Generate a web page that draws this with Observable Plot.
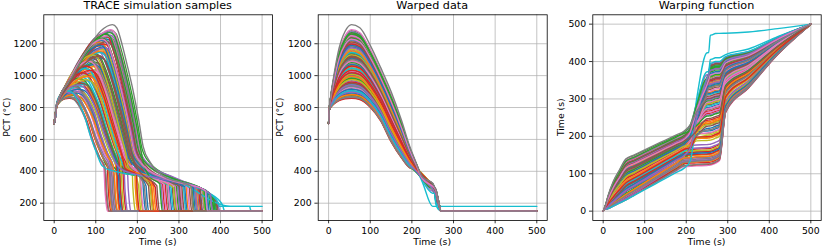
<!DOCTYPE html>
<html><head><meta charset="utf-8">
<script src="https://cdn.jsdelivr.net/npm/d3@7"></script>
<script src="https://cdn.jsdelivr.net/npm/@observablehq/plot@0.6"></script>
<style>
body{margin:0;background:#fff;}
#wrap{position:relative;width:822px;height:248px;overflow:hidden;background:#fff;}
#wrap svg{position:absolute;top:0;}
</style></head><body><div id="wrap"></div>
<script>
// ---- per-sample values ----
const peak = [
1012,1187,905,1240,968,1105,872,1150,1063,930,
1268,948,1122,884,1205,1036,1172,918,1088,990,
1230,862,1140,1002,1255,940,1075,1195,896,1050,
1110,978,1282,858,1160,1024,912,1218,1094,955,
1180,1042,876,1262,998,1128,925,1245,1068,1015,
890,1210,1082,960,1275,1135,1028,868,1165,944,
1225,1057,984,1198,900,1115,1250,935,1008,1145,
1070,880,1235,1018,1175,952,1288,1100,975,1045,
915,1155,1260,1033,896,1212,1090,864,1130,905,
1190,995,1270,1060,942,1120,1228,1320];
const peakTime = [
85,104,36,130,80,84,31,112,76,66,
122,70,108,35,106,100,110,55,78,66,
126,39,96,84,134,44,100,112,60,72,
112,56,138,36,100,90,40,126,84,69,
118,70,48,120,84,106,42,132,94,64,
53,110,100,54,134,94,96,30,116,71,
114,96,58,120,55,88,128,43,88,110,
96,45,116,68,122,66,136,84,78,74,
60,114,124,86,34,126,82,41,92,30,
110,82,134,76,56,108,116,140];
const descent = [
84,78,90,72,95,80,88,76,92,82,
74,86,79,93,77,89,81,85,96,83,
75,91,87,80,70,94,78,82,88,97,
79,92,73,86,84,77,98,76,90,81,
80,88,94,74,83,78,91,72,85,93,
89,77,82,96,71,86,79,92,75,84,
78,81,95,76,87,90,73,93,80,79,
83,97,76,88,74,85,70,91,82,86,
92,75,78,84,99,73,87,90,81,85,
77,85,74,89,93,80,76,74];
const quench = [
215,318,372,262,179,285,123,345,208,384,
300,160,332,131,356,235,305,145,198,362,
278,134,290,168,258,390,210,338,152,312,
222,152,378,126,298,326,142,272,190,366,
350,196,386,268,171,308,137,375,232,282,
146,342,295,154,393,228,322,127,358,160,
368,240,380,348,147,302,265,141,288,405,
315,147,360,160,340,388,275,218,164,470,
157,330,382,244,138,352,292,136,204,395,
335,236,255,200,376,248,364,330];
const hotFinish = [89];           // samples that end at 180 °C instead of 150 °C
// warped-time grid and the warped PCT of the lowest / highest sample on it
const warpGrid  = [0,2,5,12,25,40,55,75,100,125,150,175,195,210,225,250,254,258,264,270,280,295,350,420,500];
const lowShape  = [700,790,800,818,838,848,850,842,795,710,580,480,420,390,350,285,268,250,195];
const highShape = [700,800,870,990,1170,1280,1320,1300,1190,1050,900,720,555,455,405,325,305,285,215];
// common cooling envelope seen in the raw samples
const envTime = [0,122,303,351,375,391,407,420,500];
const envPCT  = [416,416,332,297,259,206,186,180,180];
const xTicks = [0,100,200,300,400,500];
const pctTicks = [200,400,600,800,1000,1200];
const timeTicks = [0,100,200,300,400,500];
const tab10 = ["#1f77b4","#ff7f0e","#2ca02c","#d62728","#9467bd","#8c564b","#e377c2","#7f7f7f","#bcbd22","#17becf"];

function env(t){
  if (t <= envTime[0]) return envPCT[0];
  for (let k = 1; k < envTime.length; k++) if (t <= envTime[k]) {
    const a = (t - envTime[k-1]) / (envTime[k] - envTime[k-1]);
    return envPCT[k-1] + a * (envPCT[k] - envPCT[k-1]);
  }
  return envPCT[envPCT.length-1];
}
function envInv(v){   // time at which the envelope reaches v
  if (v >= envPCT[1]) return envTime[1];
  for (let k = 2; k < envTime.length; k++) if (v >= envPCT[k]) {
    const a = (envPCT[k-1] - v) / (envPCT[k-1] - envPCT[k]);
    return envTime[k-1] + a * (envTime[k] - envTime[k-1]);
  }
  return envTime[envTime.length-1];
}
const clamp = (v,a,b) => Math.max(a, Math.min(b, v));

const rows = [];
for (let i = 0; i < peak.length; i++) {
  const f = (peak[i] - 850) / 470;
  const Tp = peakTime[i], Td = Tp + descent[i], Tq = quench[i];
  const fin = hotFinish.includes(i) ? 180 : 150;
  const dq = Tq - Td;
  const tgt = lowShape.map((v, k) => v + f * (highShape[k] - v));
  const g = [], w = [];
  for (let k = 0; k <= 12; k++) g[k] = tgt[k];
  w[0] = 0; w[1] = 5;
  w[2] = Tp * 0.1; w[3] = Tp * (0.22 + 0.08 * f); w[4] = Tp * (0.45 + 0.13 * f); w[5] = Tp * (0.73 + 0.07 * f);
  w[6] = Tp;
  [75,100,125,150,175].forEach((s, j) => { w[7 + j] = Tp + (Td - Tp) * (s - 55) / 140; });
  w[12] = Td;
  w[13] = clamp(Td + Math.min(20, 0.15 * dq), Td + 0.3, Tq - 3);
  w[14] = clamp(Math.max(envInv(tgt[14]), Td + 0.45 * dq), w[13] + 0.3, Tq - 2);
  w[15] = clamp(Math.max(envInv(tgt[15]), Td + 0.85 * dq), w[14] + 0.3, Tq - 1);
  w[16] = clamp(Math.max(envInv(tgt[16]), Tq - 60), w[15] + 0.3, Tq - 0.5);
  w[17] = Tq;
  w[18] = Tq + 2; w[19] = Tq + 5;
  w[20] = Tq + 0.03 * (500 - Tq) + 1;
  w[21] = Math.max(Tq + 0.12 * (500 - Tq), 262 + 0.55 * (Tq - 120));
  w[22] = Math.max(Tq + 0.3 * (500 - Tq), 328 + 0.36 * (Tq - 120));
  w[23] = Math.max(Tq + 0.6 * (500 - Tq), 418 + 0.17 * (Tq - 120));
  w[24] = 500;
  for (let k = 1; k < w.length; k++) w[k] = Math.max(w[k], w[k-1] + 0.3);
  for (let k = w.length - 2; k >= 0; k--) w[k] = Math.min(w[k], w[k+1] - 0.3);
  g[13] = Math.max(tgt[13], env(w[13]) - 3);
  g[14] = dq > 8 ? Math.max(env(w[14]), tgt[14] - 40) : tgt[14];
  g[15] = Math.min(tgt[15], env(w[15]));
  g[16] = Math.min(tgt[16], env(w[16]));
  g[17] = Math.min(tgt[17], env(w[17]));
  g[18] = Math.max(fin, Math.min(tgt[18], g[17] - 20));
  for (let k = 19; k < warpGrid.length; k++) g[k] = fin;
  const color = tab10[i % 10];
  for (let k = 0; k < warpGrid.length; k++)
    rows.push({id: i, color, s: warpGrid[k], t: w[k], pct: g[k]});
}

const wrap = document.getElementById("wrap");
const FONT = "DejaVu Sans";
function panel(left, width, mL, mR, x, y, yDomain, yTicks) {
  const grid = {stroke: "#b0b0b0", strokeOpacity: 1, strokeWidth: 0.75};
  const svg = Plot.plot({
    width, height: 248, marginLeft: mL, marginRight: mR, marginTop: 14.3, marginBottom: 28,
    style: {background: "transparent", fontFamily: FONT, fontSize: "9.3px", color: "black", overflow: "visible"},
    x: {domain: [-25, 525]},
    y: {domain: yDomain},
    color: {type: "identity"},
    marks: [
      Plot.gridX(xTicks, grid),
      Plot.gridY(yTicks, grid),
      Plot.line(rows, {x, y, z: "id", stroke: "color", strokeWidth: 1.4, curve: "monotone-x"}),
      Plot.frame({stroke: "black", strokeWidth: 0.8}),
      Plot.axisX(xTicks, {tickSize: 3.3, tickPadding: 3.3, label: null, tickFormat: d => String(d), strokeWidth: 0.8}),
      Plot.axisY(yTicks, {tickSize: 3.3, tickPadding: 3.3, label: null, tickFormat: d => String(d), strokeWidth: 0.8})
    ]
  });
  svg.style.left = left + "px";
  wrap.append(svg);
}
panel(0, 285, 43.3, 13, "t", "pct", [91.5, 1381.5], pctTicks);
panel(285, 275, 32.7, 13.3, "s", "pct", [91.5, 1381.5], pctTicks);
panel(560, 262, 32.3, 1.3, "s", "t", [-25, 525], timeTicks);

// titles and axis labels
const ov = d3.select(wrap).append("svg").attr("width", 822).attr("height", 248)
  .style("left", "0px").style("font-family", FONT).style("pointer-events", "none");
const frames = [
  {l: 43.3, r: 272, title: "TRACE simulation samples", ylab: "PCT (°C)", yx: 9.5},
  {l: 317.7, r: 546.7, title: "Warped data", ylab: "PCT (°C)", yx: 283},
  {l: 592.3, r: 820.7, title: "Warping function", ylab: "Time (s)", yx: 564}
];
frames.forEach(fr => {
  const cx = (fr.l + fr.r) / 2;
  ov.append("text").attr("x", cx).attr("y", 9).attr("text-anchor", "middle")
    .attr("font-size", "11.2px").attr("fill", "black").text(fr.title);
  ov.append("text").attr("x", cx).attr("y", 244.5).attr("text-anchor", "middle")
    .attr("font-size", "9.3px").attr("fill", "black").text("Time (s)");
  ov.append("text").attr("transform", `translate(${fr.yx},117.2) rotate(-90)`).attr("text-anchor", "middle")
    .attr("font-size", "9.3px").attr("fill", "black").text(fr.ylab);
});
</script></body></html>
